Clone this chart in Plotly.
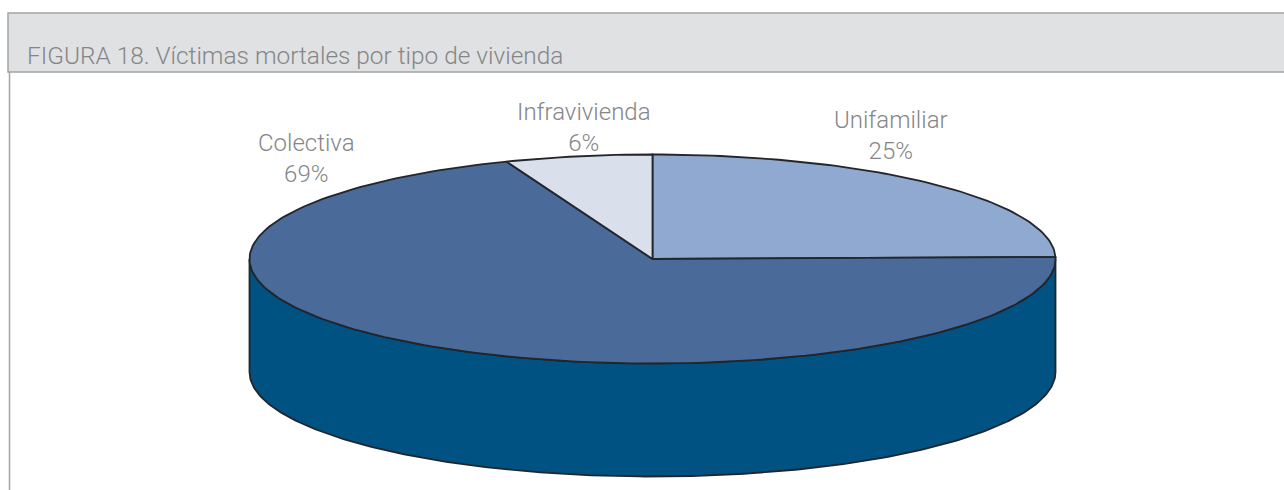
import numpy as np
import plotly.graph_objects as go

# --- data ---
categories = ["Unifamiliar", "Colectiva", "Infravivienda"]
values = [24.7, 69.4, 5.9]
title_text = "FIGURA 18. Víctimas mortales por tipo de vivienda"

# --- style / geometry ---
colors = ["#90a9d1", "#4a6a99", "#d9dfeb"]
side_color = "#005282"
edge = "#22252a"
text_grey = "#858688"
frame = "#a3a4a6"
band = "#e0e1e3"
FONT = "Roboto"
W, H = 1284, 490
CX, CY, RX, RY, DEPTH = 652.5, 259.0, 403.0, 104.5, 113.0
label_anchor = {"Unifamiliar": (890.5, 135.5), "Colectiva": (306.5, 158.5), "Infravivienda": (583.5, 127.5)}


def ell(theta):
    return CX + RX * np.sin(theta), CY - RY * np.cos(theta)


fig = go.Figure()

# side wall: the front half of the ellipse, extruded downward
t = np.linspace(np.pi / 2, 3 * np.pi / 2, 240)
sx, sy = ell(t)
fig.add_trace(go.Scatter(
    x=np.r_[sx, sx[::-1], sx[0]], y=np.r_[sy, sy[::-1] + DEPTH, sy[0]],
    mode="lines", fill="toself", fillcolor=side_color,
    line=dict(color=edge, width=1.8), hoverinfo="skip", showlegend=False))

# top slices, clockwise from twelve o'clock
total = sum(values)
start = 0.0
for name, v, c in zip(categories, values, colors):
    end = start + 2 * np.pi * v / total
    t = np.linspace(start, end, max(int(300 * v / total), 12))
    ax, ay = ell(t)
    fig.add_trace(go.Scatter(
        x=np.r_[CX, ax, CX], y=np.r_[CY, ay, CY],
        mode="lines", fill="toself", fillcolor=c,
        line=dict(color=edge, width=1.8), name=name, showlegend=False))
    start = end

for name, v in zip(categories, values):
    lx, ly = label_anchor[name]
    fig.add_annotation(x=lx, y=ly, text=f"{name}<br>{v:.0f}%", showarrow=False,
                       font=dict(family=FONT, size=24, color=text_grey, weight=300),
                       xanchor="center", yanchor="middle", align="center")

fig.add_annotation(x=25, y=55, text=title_text, showarrow=False, xanchor="left", yanchor="middle",
                   font=dict(family=FONT, size=24.4, color=text_grey, weight=300))

# frame and header band
fig.add_shape(type="rect", x0=8, x1=W + 10, y0=13, y1=72, fillcolor=band,
              line=dict(color=frame, width=1.5), layer="below")
fig.add_shape(type="line", x0=9.5, x1=9.5, y0=72, y1=H + 5, line=dict(color=frame, width=1.5), layer="below")

fig.update_layout(
    width=W, height=H, margin=dict(l=0, r=0, t=0, b=0),
    paper_bgcolor="white", plot_bgcolor="white", showlegend=False,
    xaxis=dict(range=[0, W], visible=False, fixedrange=True),
    yaxis=dict(range=[H, 0], visible=False, fixedrange=True),
)
fig.write_html("out.html", config={"displayModeBar": False},
               post_script="document.body.style.margin='0';document.body.style.overflow='hidden';")
